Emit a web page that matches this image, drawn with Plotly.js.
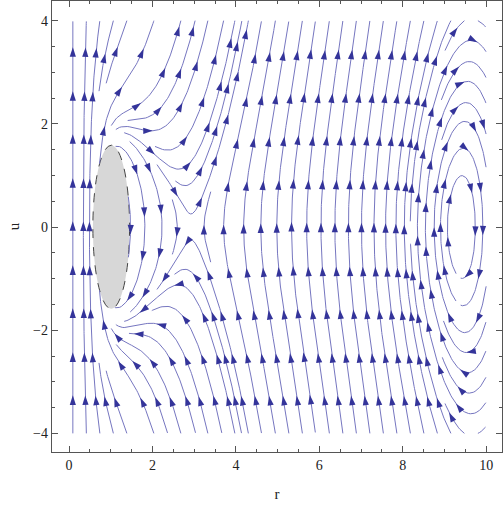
<!DOCTYPE html>
<html><head><meta charset="utf-8">
<script src="https://cdn.plot.ly/plotly-3.0.1.min.js"></script>
<style>html,body{margin:0;padding:0;background:#fff;}</style>
</head><body>
<div id="chart" style="width:504px;height:507px;"></div>
<script>
// ---- data ----
const xTickValues = [0, 2, 4, 6, 8, 10];
const yTickValues = [-4, -2, 0, 2, 4];
const rDomain = [0, 10];
const uDomain = [-4, 4];
// equilibria on u = 0 : inner centre (hidden), saddle, outer centre
const equilibriaR = [1.0, 2.94, 9.4];
// force profile  K(r) = a / r^2 + b
const forceScale = [1.0, 0.15];
// u^2 coefficient G(r) = g0 / (1 + exp((r - g1)/g2)) + g3
const quadCoef = [0.7, 8.6, 0.4, 0.12];
// excluded region (grey ellipse)
const regionCenter = [1.01, 0.0];
const regionSemiAxes = [0.44, 1.585];

// ---- vector field ----
function field(r, u) {
  const r1 = equilibriaR[0], rs = equilibriaR[1], rc = equilibriaR[2];
  const K = forceScale[0] / (r * r + 1e-4) + forceScale[1];
  const G = quadCoef[0] / (1 + Math.exp((r - quadCoef[1]) / quadCoef[2])) + quadCoef[3];
  return [u, K * (r - r1) * (r - rs) * (rc - r) + G * u * u];
}

// ---- evenly spaced streamlines ----
const SX = 41.7, SY = 51.6;           // pixel scale used only for spacing
const DSEP = 13.5, DTEST = 6.0, STEP = 1.0;
const grid = new Map();
function gkey(i, j) { return i * 10007 + j; }
function addPt(x, y, id, s) {
  const k = gkey(Math.floor(x / DSEP), Math.floor(y / DSEP));
  let a = grid.get(k); if (!a) { a = []; grid.set(k, a); }
  a.push([x, y, id, s]);
}
function tooClose(x, y, d, id, s) {
  const i = Math.floor(x / DSEP), j = Math.floor(y / DSEP), d2 = d * d;
  for (let di = -1; di <= 1; di++) for (let dj = -1; dj <= 1; dj++) {
    const a = grid.get(gkey(i + di, j + dj)); if (!a) continue;
    for (const p of a) {
      if (p[2] === id && Math.abs(p[3] - s) < 3 * DSEP) continue;
      const dx = p[0] - x, dy = p[1] - y;
      if (dx * dx + dy * dy < d2) return true;
    }
  }
  return false;
}
function outside(r, u) {
  if (r < rDomain[0] || r > rDomain[1] || u < uDomain[0] || u > uDomain[1]) return true;
  const a = (r - regionCenter[0]) / regionSemiAxes[0], b = (u - regionCenter[1]) / regionSemiAxes[1];
  return a * a + b * b < 1;
}
function dir(r, u, sign) {
  const f = field(r, u);
  const vx = f[0] * SX, vy = f[1] * SY;
  const m = Math.hypot(vx, vy);
  if (!(m > 1e-6)) return null;
  return [sign * vx / m / SX, sign * vy / m / SY];
}
function nearEq(r, u) {
  for (let k = 1; k < equilibriaR.length; k++) {
    const dx = (r - equilibriaR[k]) * SX, dy = u * SY;
    if (dx * dx + dy * dy < 9) return true;
  }
  return false;
}
function trace(r0, u0, sign, id) {
  const pts = []; let r = r0, u = u0, s = 0, prev = null;
  for (let n = 0; n < 4000; n++) {
    const k1 = dir(r, u, sign); if (!k1) break;
    const k2 = dir(r + k1[0] * STEP / 2, u + k1[1] * STEP / 2, sign); if (!k2) break;
    const k3 = dir(r + k2[0] * STEP / 2, u + k2[1] * STEP / 2, sign); if (!k3) break;
    const k4 = dir(r + k3[0] * STEP, u + k3[1] * STEP, sign); if (!k4) break;
    const nr = r + STEP * (k1[0] + 2 * k2[0] + 2 * k3[0] + k4[0]) / 6;
    const nu = u + STEP * (k1[1] + 2 * k2[1] + 2 * k3[1] + k4[1]) / 6;
    if (outside(nr, nu)) break;
    const d = [nr - r, nu - u];
    if (prev && (d[0] * prev[0] * SX * SX + d[1] * prev[1] * SY * SY) < 0) break;
    s += STEP;
    const X = nr * SX, Y = nu * SY;
    if (tooClose(X, Y, DTEST, id, sign * s)) break;
    if (nearEq(nr, nu)) break;
    pts.push([nr, nu]); addPt(X, Y, id, sign * s);
    prev = d; r = nr; u = nu;
  }
  return pts;
}
const lines = [];
function seed(r, u) {
  if (outside(r, u)) return;
  if (tooClose(r * SX, u * SY, DSEP, -1, 0)) return;
  if (nearEq(r, u)) return;
  const id = lines.length;
  addPt(r * SX, u * SY, id, 0);
  const b = trace(r, u, -1, id), f = trace(r, u, 1, id);
  lines.push(b.reverse().concat([[r, u]], f));
}
// seeds: bottom edge first, then the whole domain
const dr = DSEP / SX;
for (let r = 0.09; r <= 10; r += dr) seed(r, uDomain[0] + 1e-3);
for (let r = 0.09; r <= 10; r += dr) seed(r, uDomain[1] - 1e-3);
const hs = DSEP / 2;
for (let Y = uDomain[0] * SY; Y <= uDomain[1] * SY; Y += hs)
  for (let X = 0; X <= 10 * SX; X += hs) seed(X / SX, Y / SY);

// ---- build traces ----
const lx = [], ly = [], ax = [], ay = [], aang = [];
const S0 = 37, SL = 43.5;
for (const L of lines) {
  if (L.length < 2) continue;
  const cum = [0];
  for (let i = 1; i < L.length; i++) {
    cum.push(cum[i - 1] + Math.hypot((L[i][0] - L[i - 1][0]) * SX, (L[i][1] - L[i - 1][1]) * SY));
  }
  const len = cum[cum.length - 1];
  if (len < 8) continue;
  for (let i = 0; i < L.length; i += 2) { lx.push(L[i][0]); ly.push(L[i][1]); }
  lx.push(L[L.length - 1][0]); ly.push(L[L.length - 1][1]);
  lx.push(null); ly.push(null);
  const targets = [];
  if (len < S0) { if (len > 14) targets.push(len * 0.7); }
  else for (let t = S0; t <= len; t += SL) targets.push(t);
  let i = 1;
  for (const t of targets) {
    while (i < L.length - 1 && cum[i] < t) i++;
    const p = L[i], q = L[Math.max(0, i - 2)];
    const dx = (p[0] - q[0]) * SX, dyUp = (p[1] - q[1]) * SY;
    ax.push(p[0]); ay.push(p[1]);
    aang.push(Math.atan2(dx, dyUp) * 180 / Math.PI);
  }
}

const serif = 'Liberation Serif, Times New Roman, serif';
const data = [
  { type: 'scatter', mode: 'lines', x: lx, y: ly, hoverinfo: 'skip',
    line: { color: '#7676c0', width: 1 }, connectgaps: false },
  { type: 'scatter', mode: 'markers', x: ax, y: ay, hoverinfo: 'skip',
    marker: { symbol: 'arrow', size: 10, angle: aang, color: '#34349a', line: { width: 0 } } }
];
const axisCommon = {
  showgrid: false, zeroline: false, showline: true, linecolor: '#555', linewidth: 1.2,
  mirror: 'allticks', ticks: 'inside', ticklen: 6, tickcolor: '#555', tickwidth: 1,
  tickmode: 'linear', tick0: 0, dtick: 2,
  minor: { ticks: 'inside', ticklen: 3, tickcolor: '#555', dtick: 0.5, tick0: 0, showgrid: false },
  tickfont: { family: serif, size: 14, color: '#222' }
};
const layout = {
  width: 504, height: 507, margin: { l: 52, r: 2, t: 1, b: 55 },
  paper_bgcolor: '#fff', plot_bgcolor: '#fff', showlegend: false,
  xaxis: Object.assign({}, axisCommon, { range: [-0.41, 10.38],
    title: { text: 'r', font: { family: serif, size: 15, color: '#222' }, standoff: 16 } }),
  yaxis: Object.assign({}, axisCommon, { range: [-4.36, 4.38],
    title: { text: 'u', font: { family: serif, size: 15, color: '#222' }, standoff: 9 } }),
  shapes: [{
    type: 'circle', xref: 'x', yref: 'y', layer: 'below',
    x0: regionCenter[0] - regionSemiAxes[0], x1: regionCenter[0] + regionSemiAxes[0],
    y0: regionCenter[1] - regionSemiAxes[1], y1: regionCenter[1] + regionSemiAxes[1],
    fillcolor: '#d7d7d7', line: { color: '#444', width: 1, dash: 'dash' }
  }]
};
Plotly.newPlot('chart', data, layout, { staticPlot: true, displayModeBar: false });
</script>
</body></html>
